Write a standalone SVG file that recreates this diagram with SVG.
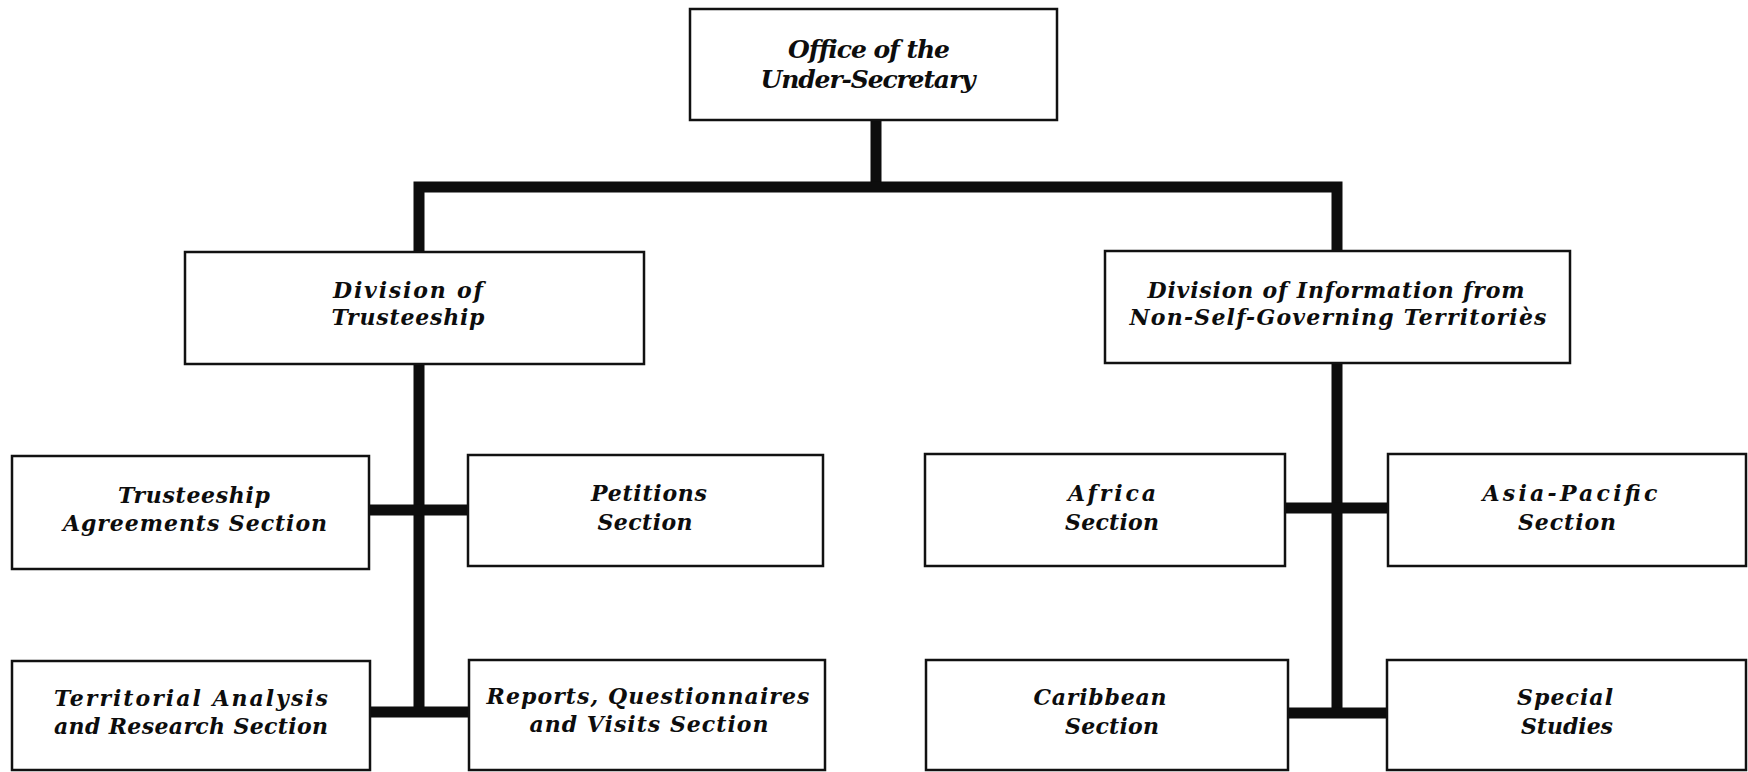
<svg xmlns="http://www.w3.org/2000/svg" width="1748" height="772" viewBox="0 0 1748 772">
  <style>
    .box { fill: #ffffff; stroke: #111111; stroke-width: 2.5; }
    .lbl { font-family: "DejaVu Serif", "Liberation Serif", serif; font-weight: bold; font-style: italic; font-size: 22px; fill: #0d0d0d; text-anchor: middle; }
    .lbl-top { font-size: 25px; }
    .wire { fill: none; stroke: #0d0d0d; stroke-width: 11; stroke-linejoin: miter; stroke-linecap: butt; }
  </style>
  <rect width="1748" height="772" fill="#ffffff"/>

  <!-- connectors -->
  <g id="connectors">
    <path class="wire" d="M876 120 V187"/>
    <path class="wire" d="M419 252 V187 H1337 V251"/>
    <!-- Trusteeship branch -->
    <path class="wire" d="M419 364 V717"/>
    <path class="wire" d="M369 510 H468"/>
    <path class="wire" d="M370 712 H469"/>
    <!-- Non-Self-Governing branch -->
    <path class="wire" d="M1337 363 V718"/>
    <path class="wire" d="M1285 508 H1388"/>
    <path class="wire" d="M1288 713 H1387"/>
  </g>

  <g id="under-secretary">
    <rect class="box" x="690" y="9" width="367" height="111"/>
    <text class="lbl lbl-top" x="869" y="58" textLength="162" lengthAdjust="spacing">Office of the</text>
    <text class="lbl lbl-top" x="868" y="88" textLength="215" lengthAdjust="spacing">Under-Secretary</text>
  </g>

  <g id="div-trusteeship">
    <rect class="box" x="185" y="252" width="459" height="112"/>
    <text class="lbl" x="408" y="298" textLength="150" lengthAdjust="spacing">Division of</text>
    <text class="lbl" x="408" y="325" textLength="153" lengthAdjust="spacing">Trusteeship</text>
  </g>

  <g id="div-information">
    <rect class="box" x="1105" y="251" width="465" height="112"/>
    <text class="lbl" x="1336" y="298" textLength="377" lengthAdjust="spacing">Division of Information from</text>
    <text class="lbl" x="1338" y="325" textLength="417" lengthAdjust="spacing">Non-Self-Governing Territoriès</text>
  </g>

  <g id="trusteeship-agreements">
    <rect class="box" x="12" y="456" width="357" height="113"/>
    <text class="lbl" x="194" y="503" textLength="152" lengthAdjust="spacing">Trusteeship</text>
    <text class="lbl" x="195" y="531" textLength="264" lengthAdjust="spacing">Agreements Section</text>
  </g>

  <g id="petitions">
    <rect class="box" x="468" y="455" width="355" height="111"/>
    <text class="lbl" x="649" y="501" textLength="116" lengthAdjust="spacing">Petitions</text>
    <text class="lbl" x="645" y="530" textLength="95" lengthAdjust="spacing">Section</text>
  </g>

  <g id="territorial-analysis">
    <rect class="box" x="12" y="661" width="358" height="109"/>
    <text class="lbl" x="191" y="706" textLength="274" lengthAdjust="spacing">Territorial Analysis</text>
    <text class="lbl" x="191" y="734" textLength="274" lengthAdjust="spacing">and Research Section</text>
  </g>

  <g id="reports">
    <rect class="box" x="469" y="660" width="356" height="110"/>
    <text class="lbl" x="648" y="704" textLength="323" lengthAdjust="spacing">Reports, Questionnaires</text>
    <text class="lbl" x="649" y="732" textLength="239" lengthAdjust="spacing">and Visits Section</text>
  </g>

  <g id="africa">
    <rect class="box" x="925" y="454" width="360" height="112"/>
    <text class="lbl" x="1112" y="501" textLength="88" lengthAdjust="spacing">Africa</text>
    <text class="lbl" x="1112" y="530" textLength="94" lengthAdjust="spacing">Section</text>
  </g>

  <g id="asia-pacific">
    <rect class="box" x="1388" y="454" width="358" height="112"/>
    <text class="lbl" x="1570" y="501" textLength="175" lengthAdjust="spacing">Asia-Pacific</text>
    <text class="lbl" x="1567" y="530" textLength="98" lengthAdjust="spacing">Section</text>
  </g>

  <g id="caribbean">
    <rect class="box" x="926" y="660" width="362" height="110"/>
    <text class="lbl" x="1100" y="705" textLength="133" lengthAdjust="spacing">Caribbean</text>
    <text class="lbl" x="1112" y="734" textLength="94" lengthAdjust="spacing">Section</text>
  </g>

  <g id="special-studies">
    <rect class="box" x="1387" y="660" width="359" height="110"/>
    <text class="lbl" x="1565" y="705" textLength="96" lengthAdjust="spacing">Special</text>
    <text class="lbl" x="1567" y="734" textLength="92" lengthAdjust="spacing">Studies</text>
  </g>
</svg>
